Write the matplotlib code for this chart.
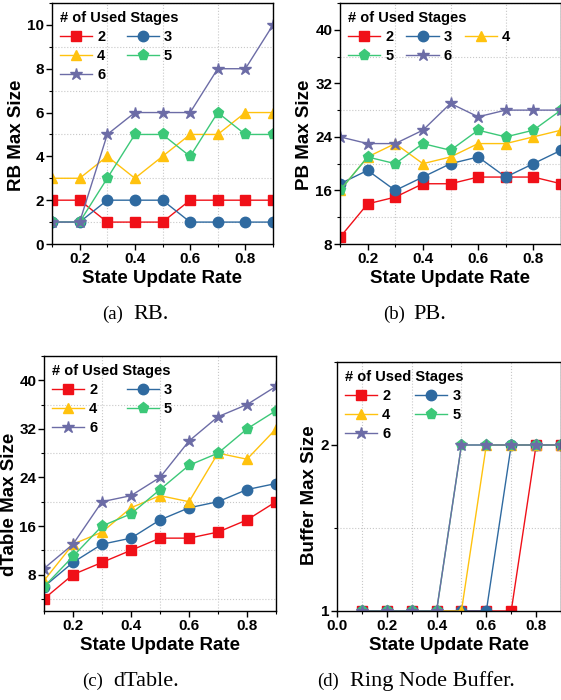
import matplotlib
matplotlib.use('Agg')
import matplotlib.pyplot as plt
from matplotlib.ticker import MultipleLocator

plt.rcParams['font.family'] = ['Liberation Sans', 'DejaVu Sans']
plt.rcParams['font.weight'] = 'bold'

rates = [0.1, 0.2, 0.3, 0.4, 0.5, 0.6, 0.7, 0.8, 0.9]
stages = ['2', '3', '4', '5', '6']

rb_sizes = {
    '2': [2, 2, 1, 1, 1, 2, 2, 2, 2],
    '3': [1, 1, 2, 2, 2, 1, 1, 1, 1],
    '4': [3, 3, 4, 3, 4, 5, 5, 6, 6],
    '5': [1, 1, 3, 5, 5, 4, 6, 5, 5],
    '6': [1, 1, 5, 6, 6, 6, 8, 8, 10],
}
pb_sizes = {
    '2': [9, 14, 15, 17, 17, 18, 18, 18, 17],
    '3': [17, 19, 16, 18, 20, 21, 18, 20, 22],
    '4': [16, 21, 23, 20, 21, 23, 23, 24, 25],
    '5': [16, 21, 20, 23, 22, 25, 24, 25, 28],
    '6': [24, 23, 23, 25, 29, 27, 28, 28, 28],
}
dtable_sizes = {
    '2': [4, 8, 10, 12, 14, 14, 15, 17, 20],
    '3': [6, 10, 13, 14, 17, 19, 20, 22, 23],
    '4': [7, 13, 15, 19, 21, 20, 28, 27, 32],
    '5': [6, 11, 16, 18, 22, 26, 28, 32, 35],
    '6': [9, 13, 20, 21, 24, 30, 34, 36, 39],
}
buffer_sizes = {
    '2': [1, 1, 1, 1, 1, 1, 1, 2, 2],
    '3': [1, 1, 1, 1, 1, 1, 2, 2, 2],
    '4': [1, 1, 1, 1, 1, 2, 2, 2, 2],
    '5': [1, 1, 1, 1, 2, 2, 2, 2, 2],
    '6': [1, 1, 1, 1, 2, 2, 2, 2, 2],
}

colors = {'2': '#F01018', '3': '#2F6AA0', '4': '#FFC20E',
          '5': '#3CC878', '6': '#6C6CA6'}
markers = {'2': 's', '3': 'o', '4': '^', '5': 'p', '6': '*'}
msizes = {'2': 7, '3': 7.5, '4': 7.5, '5': 8, '6': 9}


def draw_panel(ax, data, ylabel, ylim, ymajor, yminor, xlim, ncol, colsp, label_xy):
    lines = {}
    for s in stages:
        lines[s], = ax.plot(rates, data[s], color=colors[s], marker=markers[s],
                            markersize=msizes[s], linewidth=1.0, label=s)
    ax.set_xlim(*xlim)
    ax.set_ylim(*ylim)
    ax.xaxis.set_minor_locator(MultipleLocator(0.1))
    ax.yaxis.set_major_locator(MultipleLocator(ymajor))
    ax.yaxis.set_minor_locator(MultipleLocator(yminor))
    ax.grid(which='minor', color='#c8c8c8', linestyle=':', linewidth=0.8)
    ax.set_axisbelow(True)
    ax.tick_params(which='major', direction='out', length=4, width=1,
                   labelsize=11, pad=1.5)
    ax.tick_params(which='minor', direction='out', length=2.5, width=0.8)
    for sp in ax.spines.values():
        sp.set_linewidth(1.0)
    ax.set_xlabel('State Update Rate', fontsize=13.5, fontweight='bold', labelpad=3)
    ax.set_ylabel(ylabel, fontsize=13.5, fontweight='bold')
    ax.yaxis.set_label_coords(*label_xy)
    # legend is filled column by column, so reorder to read row by row
    nrow = -(-len(stages) // ncol)
    order = [stages[r * ncol + c] for c in range(ncol) for r in range(nrow)
             if r * ncol + c < len(stages)]
    leg = ax.legend([lines[s] for s in order], order, loc='upper left',
                    ncol=ncol, frameon=False,
                    title='# of Used Stages', fontsize=10.5,
                    title_fontproperties={'weight': 'bold', 'size': 10.5},
                    handlelength=2.2, handletextpad=0.35, columnspacing=colsp,
                    labelspacing=0.35, borderaxespad=0.25, borderpad=0.3)
    leg._legend_box.align = 'left'
    for t in leg.get_texts():
        t.set_fontweight('bold')


fig = plt.figure(figsize=(5.61, 7.0), dpi=100)

ax_a = fig.add_axes([52 / 561, 456 / 700, 221 / 561, 241 / 700])
ax_a.set_xticks([0.2, 0.4, 0.6, 0.8])
draw_panel(ax_a, rb_sizes, 'RB Max Size', (0, 11), 2, 1, (0.1, 0.9), 2, 1.45,
           (-0.12, 0.452))
ax_a.set_yticks([0, 2, 4, 6, 8, 10])

ax_b = fig.add_axes([340 / 561, 456 / 700, 221 / 561, 241 / 700])
ax_b.set_xticks([0.2, 0.4, 0.6, 0.8])
draw_panel(ax_b, pb_sizes, 'PB Max Size', (8, 44), 8, 4, (0.1, 0.9), 3, 0.9,
           (-0.12, 0.452))
ax_b.set_yticks([8, 16, 24, 32, 40])

ax_c = fig.add_axes([44 / 561, 89 / 700, 232 / 561, 255 / 700])
ax_c.set_xticks([0.2, 0.4, 0.6, 0.8])
draw_panel(ax_c, dtable_sizes, 'dTable Max Size', (2, 44), 8, 4, (0.1, 0.9), 2, 2.0,
           (-0.114, 0.42))
ax_c.set_yticks([8, 16, 24, 32, 40])

ax_d = fig.add_axes([337 / 561, 89 / 700, 224 / 561, 249 / 700])
ax_d.set_xticks([0.0, 0.2, 0.4, 0.6, 0.8])
draw_panel(ax_d, buffer_sizes, 'Buffer Max Size', (1, 2.5), 1, 0.5, (0.0, 0.9), 2, 1.7,
           (-0.085, 0.466))
ax_d.set_xticklabels(['0.0', '0.2', '0.4', '0.6', '0.8'])
ax_d.set_yticks([1, 2])

for ax in (ax_a, ax_b, ax_c, ax_d):
    for lab in ax.get_xticklabels() + ax.get_yticklabels():
        lab.set_fontweight('bold')

captions = [(102, 133, 314, '(a)', 'RB.'), (383, 413, 314, '(b)', 'PB.'),
            (82, 113, 681, '(c)', 'dTable.'), (317, 350, 681, '(d)', 'Ring Node Buffer.')]
for tx, nx, cy, tag, name in captions:
    fig.text(tx / 561, 1 - cy / 700, tag, ha='left', va='center',
             fontsize=13.5, family='Liberation Serif', fontweight='normal')
    fig.text(nx / 561, 1 - cy / 700, name, ha='left', va='center',
             fontsize=16, family='Liberation Serif', fontweight='normal')

fig.savefig('out.png', dpi=100)
